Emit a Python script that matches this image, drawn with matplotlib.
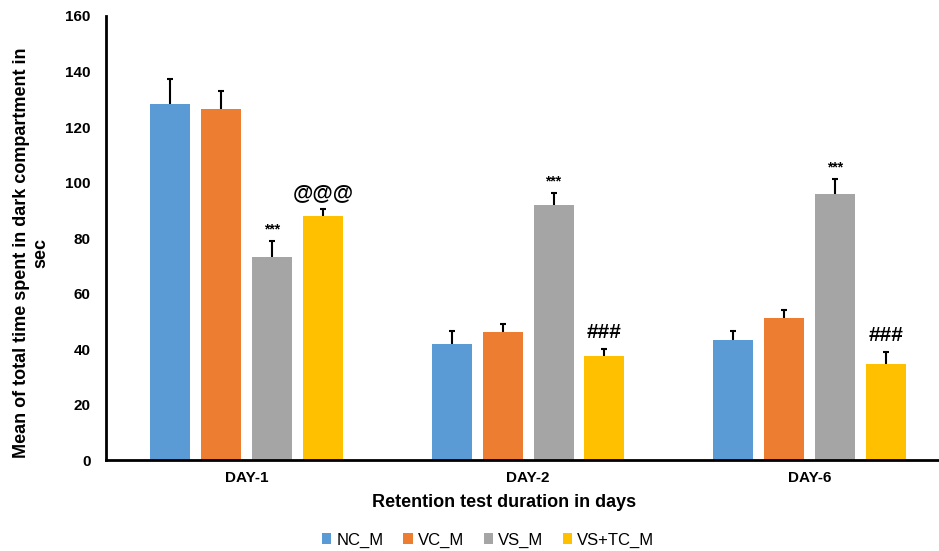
import numpy as np
import matplotlib
matplotlib.use('Agg')
import matplotlib.pyplot as plt

plt.rcParams['font.family'] = ['Liberation Sans', 'DejaVu Sans']

# Data
days = ['DAY-1', 'DAY-2', 'DAY-6']
groups = ['NC_M', 'VC_M', 'VS_M', 'VS+TC_M']
means = {
    'NC_M': [128.3, 41.8, 43.2],
    'VC_M': [126.5, 46.1, 51.2],
    'VS_M': [73.2, 91.9, 95.9],
    'VS+TC_M': [87.9, 37.5, 34.6],
}
errors = {
    'NC_M': [9.0, 4.7, 3.3],
    'VC_M': [6.5, 3.0, 2.9],
    'VS_M': [5.8, 4.3, 5.4],
    'VS+TC_M': [2.5, 2.5, 4.3],
}
# significance marks (group, day index, label)
marks = [
    ('VS_M', 0, '***'), ('VS+TC_M', 0, '@@@'),
    ('VS_M', 1, '***'), ('VS+TC_M', 1, '###'),
    ('VS_M', 2, '***'), ('VS+TC_M', 2, '###'),
]
colors = ['#5B9BD5', '#ED7D31', '#A5A5A5', '#FFC000']

fig = plt.figure(figsize=(9.39, 5.51), dpi=100)
ax = fig.add_axes([0.113, 0.165, 0.887, 0.806])

x = np.arange(len(days))
step = 0.181
width = 0.142
for i, g in enumerate(groups):
    pos = x + (i - 1.5) * step
    ax.bar(pos, means[g], width, color=colors[i], label=g, zorder=2)
    # lower half hidden behind the bar, so only the upper "T" shows
    ax.errorbar(pos, means[g], yerr=errors[g], fmt='none',
                ecolor='black', elinewidth=1.5, capsize=2.5, capthick=1.5, zorder=1)

for g, d, lab in marks:
    i = groups.index(g)
    xp = x[d] + (i - 1.5) * step
    yp = means[g][d] + errors[g][d]
    if lab == '***':
        ax.annotate(lab, (xp, yp), xytext=(0, 3), textcoords='offset points',
                    ha='center', va='bottom', fontsize=10, fontweight='bold')
    else:
        ax.annotate(lab, (xp, yp), xytext=(0, 5), textcoords='offset points',
                    ha='center', va='bottom', fontsize=15, fontweight='bold')

ax.set_xlim(-0.499, 2.46)
ax.set_ylim(0, 160)
ax.set_yticks(range(0, 161, 20))
ax.set_xticks(x)
ax.set_xticklabels(days)
ax.tick_params(axis='y', length=0, labelsize=11, pad=11)
ax.tick_params(axis='x', length=0, labelsize=11, pad=8)
for lab in ax.get_xticklabels() + ax.get_yticklabels():
    lab.set_fontweight('bold')

for s in ['top', 'right']:
    ax.spines[s].set_visible(False)
for s in ['left', 'bottom']:
    ax.spines[s].set_linewidth(2)

ax.set_ylabel('Mean of total time spent in dark compartment in\nsec',
              fontsize=13, fontweight='bold')
ax.yaxis.set_label_coords(-0.068, 0.466)
ax.set_xlabel('Retention test duration in days', fontsize=13,
              fontweight='bold')
ax.xaxis.set_label_coords(0.478, -0.077)

fig.legend(*ax.get_legend_handles_labels(), loc='center',
           bbox_to_anchor=(0.52, 0.02), ncol=4, frameon=False, fontsize=12,
           handlelength=0.55, handleheight=0.55, handletextpad=0.3,
           columnspacing=1.2)

fig.savefig('out.png', dpi=100)
